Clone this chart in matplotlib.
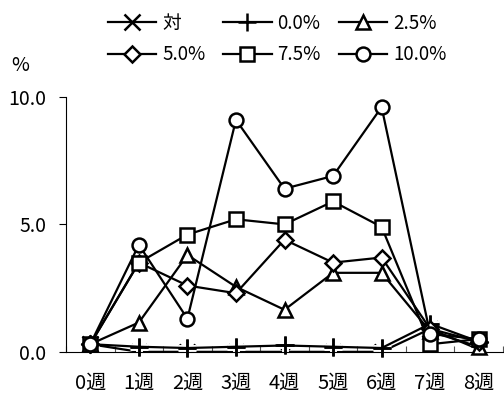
import matplotlib
matplotlib.use('Agg')
import matplotlib.pyplot as plt
import matplotlib.patheffects as pe

plt.rcParams['font.family'] = ['Noto Sans CJK JP', 'DejaVu Sans']

weeks = ['0週', '1週', '2週', '3週', '4週', '5週', '6週', '7週', '8週']
labels = ['対', '0.0%', '2.5%', '5.0%', '7.5%', '10.0%']
ctrl = [0.3, 0.0, 0.0, 0.0, 0.0, 0.0, 0.0, 0.9, 0.1]
p00 = [0.3, 0.2, 0.15, 0.2, 0.25, 0.2, 0.15, 1.1, 0.4]
p25 = [0.3, 1.15, 3.8, 2.55, 1.65, 3.1, 3.1, 0.8, 0.2]
p50 = [0.3, 3.5, 2.6, 2.3, 4.4, 3.5, 3.7, 0.9, 0.4]
p75 = [0.3, 3.5, 4.6, 5.2, 5.0, 5.9, 4.9, 0.3, 0.5]
p100 = [0.3, 4.2, 1.3, 9.1, 6.4, 6.9, 9.6, 0.7, 0.5]

series = [ctrl, p00, p25, p50, p75, p100]
markers = ['x', '+', '^', 'D', 's', 'o']
msizes = [11, 13, 10, 8, 9.5, 10]

fig = plt.figure(figsize=(5.04, 3.94), dpi=100)
ax = fig.add_axes([0.131, 0.107, 0.867, 0.647])

x = list(range(len(weeks)))
lines = []
for k, (ys, m, ms, lab) in enumerate(zip(series, markers, msizes, labels)):
    ln, = ax.plot(x, ys, color='black', lw=1.6, marker=m, ms=ms,
                  mfc='white', mec='black', mew=1.8, label=lab,
                  clip_on=(k == 0), zorder=2 + k)
    lines.append(ln)

# the 0.0% crosses sit on a white halo, which hides most of the control marks
halo, = ax.plot(x, p00, ls='none', marker='+', ms=13, mec='black', mew=1.8,
                clip_on=False, zorder=2.5,
                path_effects=[pe.Stroke(linewidth=5, foreground='white'), pe.Normal()])

ax.set_xlim(-0.5, 8.5)
ax.set_ylim(0, 10)
ax.set_yticks([0, 5, 10])
ax.set_yticklabels(['0.0', '5.0', '10.0'], fontsize=14)
ax.set_xticks([i + 0.5 for i in range(-1, 9)])
ax.set_xticklabels([])
ax.set_xticks(x, minor=True)
ax.set_xticklabels(weeks, minor=True, fontsize=14.5)
ax.tick_params(axis='x', which='major', direction='in', length=4, width=0.8, color='#555555')
ax.tick_params(axis='x', which='minor', length=0, pad=15)
ax.tick_params(axis='y', direction='out', length=5, width=0.8, pad=9)
for s in ['top', 'right']:
    ax.spines[s].set_visible(False)
ax.spines['left'].set_linewidth(0.8)
ax.spines['bottom'].set_linewidth(0.8)

fig.text(0.022, 0.835, '%', fontsize=14, va='center')

# column-major fill so rows read 対/0.0%/2.5% then 5.0%/7.5%/10.0%
order = [0, 3, 1, 4, 2, 5]
fig.legend([lines[i] for i in order], [labels[i] for i in order],
           ncol=3, frameon=False, fontsize=13.5, loc='upper left',
           bbox_to_anchor=(0.18, 1.01), handlelength=2.6, handletextpad=0.3,
           columnspacing=0.95, labelspacing=0.55)

fig.savefig('out.png', dpi=100)
